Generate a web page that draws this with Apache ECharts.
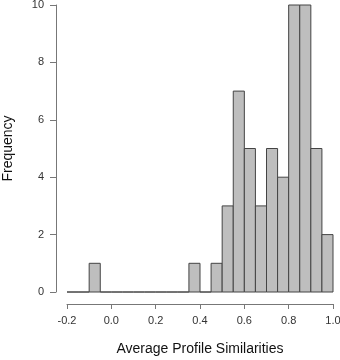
<!DOCTYPE html>
<html>
<head>
<meta charset="utf-8">
<script src="https://cdn.jsdelivr.net/npm/echarts@6/dist/echarts.min.js"></script>
<style>
  html, body { margin: 0; padding: 0; background: #fff; }
  #chart { width: 340px; height: 360px; }
</style>
</head>
<body>
<div id="chart"></div>
<script>
// histogram bins, width 0.05 from -0.2 to 1.0
const binStarts = [-0.2, -0.15, -0.1, -0.05, 0.0, 0.05, 0.1, 0.15, 0.2, 0.25, 0.3, 0.35,
  0.4, 0.45, 0.5, 0.55, 0.6, 0.65, 0.7, 0.75, 0.8, 0.85, 0.9, 0.95];
const binWidth = 0.05;
const counts = [0, 0, 1, 0, 0, 0, 0, 0, 0, 0, 0, 1,
  0, 1, 3, 7, 5, 3, 5, 4, 10, 10, 5, 2];

const xTitle = 'Average Profile Similarities';
const yTitle = 'Frequency';

const bins = binStarts.map((s, i) => [s, +(s + binWidth).toFixed(2), counts[i]]);

const chart = echarts.init(document.getElementById('chart'));

const axisText = { color: '#333', fontSize: 11, fontFamily: 'Liberation Sans, Arial, sans-serif' };
const titleText = { color: '#111', fontSize: 14, fontFamily: 'Liberation Sans, Arial, sans-serif' };

chart.setOption({
  animation: false,
  grid: { left: 67, right: 7, top: 5, bottom: 68, outerBoundsMode: 'none', containLabel: false },
  xAxis: {
    type: 'value',
    min: -0.2,
    max: 1.0,
    interval: 0.2,
    offset: 12,
    name: xTitle,
    nameLocation: 'middle',
    nameGap: 38,
    nameTextStyle: titleText,
    splitLine: { show: false },
    axisLine: { onZero: false, lineStyle: { color: '#777', width: 1 } },
    axisTick: { length: 5, lineStyle: { color: '#777' } },
    axisLabel: Object.assign({ margin: 11, formatter: v => v.toFixed(1) }, axisText)
  },
  yAxis: {
    type: 'value',
    min: 0,
    max: 10,
    interval: 2,
    offset: 11,
    name: yTitle,
    nameLocation: 'middle',
    nameGap: 41,
    nameTextStyle: titleText,
    splitLine: { show: false },
    axisLine: { show: true, onZero: false, lineStyle: { color: '#777', width: 1 } },
    axisTick: { show: true, length: 6, lineStyle: { color: '#777' } },
    axisLabel: Object.assign({ margin: 12 }, axisText)
  },
  series: [{
    type: 'custom',
    data: bins,
    encode: { x: [0, 1], y: 2 },
    renderItem: function (params, api) {
      const p0 = api.coord([api.value(0), 0]);
      const p1 = api.coord([api.value(1), api.value(2)]);
      return {
        type: 'rect',
        shape: { x: p0[0], y: p1[1], width: p1[0] - p0[0], height: p0[1] - p1[1] },
        style: { fill: '#bebebe', stroke: '#444', lineWidth: 1 }
      };
    }
  }]
});
</script>
</body>
</html>
